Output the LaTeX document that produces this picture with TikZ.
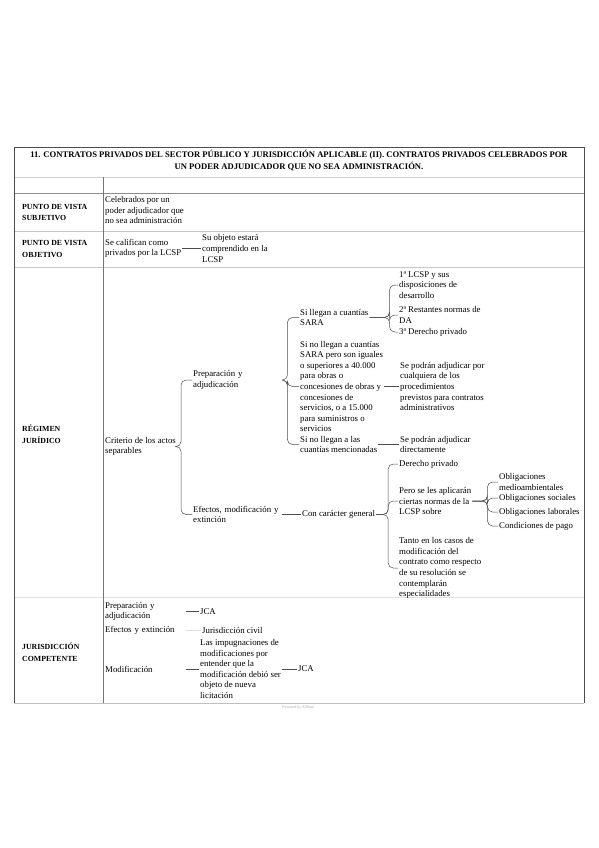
\documentclass[tikz,border=0pt]{standalone}
\usepackage{fontspec}
\setmainfont{Liberation Serif}
\newcommand{\bodyfont}{\fontsize{8.8}{10.6}\selectfont}
\newcommand{\headfont}{\fontsize{7.8}{11.5}\selectfont\bfseries}
\newcommand{\titlefont}{\fontsize{8.6}{12}\selectfont\bfseries}
\tikzset{
  txt/.style={font=\bodyfont, align=left, inner sep=1pt, anchor=west},
  lbl/.style={font=\headfont, align=left, inner sep=1pt, anchor=west},
  conn/.style={draw=black!70, line width=0.5pt, rounded corners=5pt},
}
\begin{document}
\begin{tikzpicture}[x=1pt,y=-1pt]
\useasboundingbox (0,0) rectangle (599,848);
% table rules
\foreach \y/\c in {177/black!18, 193/black!45, 231/black!22, 267/black!22, 597/black!12, 703/black!25}{
  \draw[draw=\c, line width=0.8pt] (14,\y) -- (584,\y);}
\draw[black!70, line width=0.9pt] (14,703) -- (14,147) -- (584,147) -- (584,703);
\draw[black!55, line width=0.7pt] (103,177) -- (103,703);
% title
\node[font=\titlefont, align=center, inner sep=0pt] (title) at (299,161)
  {11. CONTRATOS PRIVADOS DEL SECTOR PÚBLICO Y JURISDICCIÓN APLICABLE (II). CONTRATOS PRIVADOS CELEBRADOS POR\\
   UN PODER ADJUDICADOR QUE NO SEA ADMINISTRACIÓN.};
% row labels
\node[lbl] (subj) at (21,212.5) {PUNTO DE VISTA\\SUBJETIVO};
\node[lbl] (obj) at (21,249) {PUNTO DE VISTA\\OBJETIVO};
\node[lbl] (reg) at (21,434) {RÉGIMEN\\JURÍDICO};
\node[lbl] (jur) at (21,652) {JURISDICCIÓN\\COMPETENTE};
% subjetivo / objetivo
\node[txt] (celeb) at (104,210) {Celebrados por un\\poder adjudicador que\\no sea administración};
\node[txt] (calif) at (104,248.5) {Se califican como\\privados por la LCSP};
\node[txt] (objeto) at (201,248.5) {Su objeto estará\\comprendido en la\\LCSP};
\draw[conn] (calif.east) -- (objeto.west);
% regimen juridico
\node[txt] (crit) at (104,446.5) {Criterio de los actos\\separables};
\node[txt, text width=88pt] (prep) at (192,380) {Preparación y\\adjudicación};
\node[txt, text width=88pt] (efec) at (192,514.5) {Efectos, modificación y\\extinción};
\draw[conn] (crit.east) -- ++(4,0) |- (prep.west);
\draw[conn] (crit.east) -- ++(4,0) |- (efec.west);
\node[txt] (sara) at (299,317.5) {Si llegan a cuantías\\SARA};
\node[txt] (nosara) at (299,386.5) {Si no llegan a cuantías\\SARA pero son iguales\\o superiores a 40.000\\para obras o\\concesiones de obras y\\concesiones de\\servicios, o a 15.000\\para suministros o\\servicios};
\node[txt] (nollegan) at (299,444.5) {Si no llegan a las\\cuantías mencionadas};
\foreach \c in {sara,nosara,nollegan}
  \draw[conn] (prep.east) -- ++(5,0) |- (\c.west);
\node[txt] (lcsp) at (398,285) {1ª LCSP y sus\\disposiciones de\\desarrollo};
\node[txt] (restantes) at (398,315) {2ª Restantes normas de\\DA};
\node[txt] (derpriv) at (398,332) {3ª Derecho privado};
\foreach \c in {lcsp,restantes,derpriv}
  \draw[conn] (sara.east) -- ++(20,0) |- (\c.west);
\node[txt] (cualq) at (399,386.5) {Se podrán adjudicar por\\cualquiera de los\\procedimientos\\previstos para contratos\\administrativos};
\draw[conn] (nosara.east) -- (cualq.west);
\node[txt] (direct) at (399,444.5) {Se podrán adjudicar\\directamente};
\draw[conn] (nollegan.east) -- (direct.west);
\node[txt] (general) at (301,514.5) {Con carácter general};
\draw[conn] (efec.east) -- (general.west);
\node[txt] (privado) at (398,464) {Derecho privado};
\node[txt] (pero) at (398,501) {Pero se les aplicarán\\ciertas normas de la\\LCSP sobre};
\node[txt] (tanto) at (398,568) {Tanto en los casos de\\modificación del\\contrato como respecto\\de su resolución se\\contemplarán\\especialidades};
\foreach \c in {privado,pero,tanto}
  \draw[conn] (general.east) -- ++(12,0) |- (\c.west);
\node[txt] (medio) at (498,482) {Obligaciones\\medioambientales};
\node[txt] (social) at (498,498) {Obligaciones sociales};
\node[txt] (laboral) at (498,512) {Obligaciones laborales};
\node[txt] (pago) at (498,526) {Condiciones de pago};
\foreach \c in {medio,social,laboral,pago}
  \draw[conn] (pero.east) -- ++(15,0) |- (\c.west);
% jurisdiccion competente
\node[txt, text width=80pt] (jprep) at (104,611.5) {Preparación y\\adjudicación};
\node[txt] (jca) at (199,611.5) {JCA};
\draw[conn] (jprep.east) -- (jca.west);
\node[txt, text width=80pt] (jefec) at (104,630) {Efectos y extinción};
\node[txt] (civil) at (201,630) {Jurisdicción civil};
\draw[conn, draw=black!12] (jefec.east) -- (civil.west);
\node[txt, text width=80pt] (jmod) at (104,669) {Modificación};
\node[txt] (impug) at (199,669) {Las impugnaciones de\\modificaciones por\\entender que la\\modificación debió ser\\objeto de nueva\\licitación};
\node[txt] (jcab) at (297,669) {JCA};
\draw[conn] (jmod.east) -- (impug.west);
\draw[conn] (impug.east) -- (jcab.west);
% footer
\node[font=\fontsize{4}{5}\selectfont, text=black!35] (footer) at (298,708) {Powered by XMind};
\end{tikzpicture}
\end{document}
